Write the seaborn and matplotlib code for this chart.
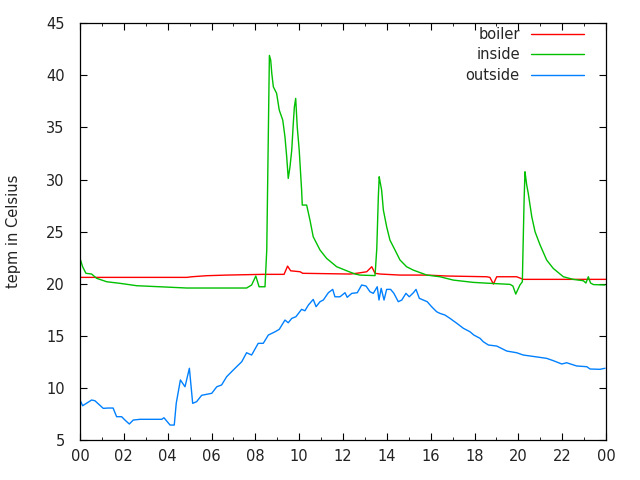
"""
Boiler / inside / outside temperature over one day
"""

# =====================================================
# Imports
# =====================================================
import pandas as pd
import matplotlib
matplotlib.use("Agg")
import matplotlib.pyplot as plt
import seaborn as sns
from matplotlib.ticker import MultipleLocator

# =====================================================
# Data (hour of day, temperature in Celsius)
# =====================================================
boiler_hours = [0, 4.88, 5.1, 5.78, 6.69, 8.36, 9.31, 9.47, 9.61, 10.04, 10.16,
                12.32, 12.62, 13.08, 13.31, 13.46, 13.69, 14.6, 15.82, 16.73,
                18.55, 18.7, 18.86, 19.01, 19.92, 20.22, 24]
boiler_temp = [20.63, 20.63, 20.69, 20.79, 20.85, 20.92, 20.92, 21.71, 21.26, 21.17, 21.02,
               20.95, 21.02, 21.17, 21.65, 21.02, 20.95, 20.85, 20.85, 20.76,
               20.69, 20.63, 19.99, 20.69, 20.69, 20.44, 20.44]

inside_hours = [0, 0.12, 0.27, 0.53, 0.76, 1.22, 1.82, 2.59, 3.65, 4.87, 7.6, 7.83,
                8.02, 8.17, 8.44, 8.52, 8.64, 8.70, 8.75, 8.82, 8.97, 9.09, 9.25,
                9.35, 9.43, 9.50, 9.58, 9.66, 9.73, 9.78, 9.84, 9.91, 10.0, 10.11,
                10.14, 10.34, 10.49, 10.64, 10.95, 11.25, 11.71, 12.17, 12.55, 12.77,
                13.46, 13.54, 13.61, 13.65, 13.69, 13.76, 13.84, 13.99, 14.14, 14.37,
                14.6, 14.9, 15.2, 15.51, 15.82, 16.42, 17.03, 17.94, 18.7, 19.62,
                19.75, 19.88, 20.07, 20.18, 20.21, 20.26, 20.3, 20.33, 20.38, 20.45,
                20.61, 20.76, 20.99, 21.29, 21.59, 22.05, 22.5, 22.96, 23.08, 23.19,
                23.29, 23.42, 23.95]
inside_temp = [22.45, 21.65, 21.02, 20.95, 20.54, 20.21, 20.06, 19.83, 19.73, 19.61, 19.61, 19.9,
               20.76, 19.73, 19.73, 23.25, 41.9, 41.44, 40.17, 38.89, 38.26, 36.66, 35.7,
               34.1, 32.18, 30.11, 31.23, 32.83, 35.38, 36.97, 37.78, 35.06, 32.83, 29.0,
               27.56, 27.56, 26.13, 24.52, 23.25, 22.45, 21.65, 21.26, 20.95, 20.85,
               20.8, 23.41, 28.35, 30.27, 29.79, 29.0, 27.08, 25.48, 24.2, 23.25,
               22.29, 21.65, 21.33, 21.09, 20.85, 20.69, 20.37, 20.15, 20.06, 19.96,
               19.8, 19.03, 19.9, 20.21, 23.25, 28.0, 30.75, 30.27, 29.47, 28.68,
               26.44, 25.0, 23.73, 22.29, 21.49, 20.69, 20.44, 20.31, 20.09, 20.69,
               20.09, 19.94, 19.9]

outside_hours = [0, 0.12, 0.53, 0.68, 1.06, 1.28, 1.51, 1.67, 1.90, 2.05, 2.25, 2.43,
                 2.74, 3.73, 3.83, 4.11, 4.30, 4.39, 4.58, 4.79, 4.99, 5.14, 5.32, 5.55,
                 6.01, 6.24, 6.46, 6.69, 6.99, 7.38, 7.60, 7.83, 8.13, 8.36, 8.59, 8.90,
                 9.09, 9.35, 9.50, 9.66, 9.85, 10.11, 10.26, 10.42, 10.64, 10.77, 10.95,
                 11.10, 11.33, 11.53, 11.63, 11.86, 12.09, 12.19, 12.40, 12.65, 12.85,
                 13.05, 13.23, 13.38, 13.56, 13.64, 13.74, 13.87, 13.99, 14.17, 14.32,
                 14.52, 14.68, 14.87, 15.02, 15.21, 15.33, 15.48, 15.66, 15.84, 16.04,
                 16.27, 16.42, 16.65, 16.88, 17.19, 17.49, 17.79, 17.97, 18.25, 18.4,
                 18.63, 19.01, 19.47, 19.92, 20.22, 20.76, 21.29, 21.59, 21.98, 22.2,
                 22.66, 23.12, 23.27, 23.72, 23.95]
outside_temp = [8.88, 8.33, 8.88, 8.81, 8.08, 8.11, 8.11, 7.28, 7.28, 6.96, 6.58, 6.96,
                7.03, 7.03, 7.18, 6.48, 6.48, 8.56, 10.8, 10.15, 11.92, 8.56, 8.72, 9.33,
                9.52, 10.15, 10.32, 11.11, 11.75, 12.55, 13.41, 13.19, 14.31, 14.31, 15.1, 15.42,
                15.65, 16.54, 16.28, 16.7, 16.86, 17.57, 17.43, 17.98, 18.52, 17.82, 18.3,
                18.46, 19.16, 19.48, 18.77, 18.77, 19.16, 18.72, 19.1, 19.16, 19.9,
                19.8, 19.25, 19.1, 19.73, 18.46, 19.58, 18.46, 19.48, 19.48, 19.1,
                18.3, 18.46, 19.1, 18.77, 19.16, 19.48, 18.62, 18.46, 18.3, 17.82,
                17.34, 17.18, 17.02, 16.7, 16.23, 15.75, 15.42, 15.1, 14.79, 14.46,
                14.15, 14.05, 13.57, 13.41, 13.19, 13.03, 12.87, 12.65, 12.33, 12.45,
                12.14, 12.07, 11.85, 11.82, 11.92]

x_ticks = list(range(0, 25, 2))
x_tick_labels = [f"{h % 24:02d}" for h in x_ticks]

COLORS = {"boiler": "#ff0000", "inside": "#00c000", "outside": "#0080ff"}

df = pd.concat([
    pd.DataFrame({"hour": boiler_hours, "temp": boiler_temp, "sensor": "boiler"}),
    pd.DataFrame({"hour": inside_hours, "temp": inside_temp, "sensor": "inside"}),
    pd.DataFrame({"hour": outside_hours, "temp": outside_temp, "sensor": "outside"}),
])

# =====================================================
# Plot
# =====================================================
sns.set_style("ticks")
plt.rcParams["font.family"] = ["DejaVu Sans"]
plt.rcParams["font.size"] = 10.5

fig, ax = plt.subplots(figsize=(6.4, 4.8), dpi=100)
fig.subplots_adjust(left=0.125, right=0.947, bottom=0.0823, top=0.952)

sns.lineplot(data=df, x="hour", y="temp", hue="sensor", palette=COLORS,
             estimator=None, sort=False, linewidth=1.0, ax=ax)

ax.set_xlim(0, 24)
ax.set_ylim(5, 45)
ax.set_xticks(x_ticks)
ax.set_xticklabels(x_tick_labels)
ax.xaxis.set_minor_locator(MultipleLocator(1))
ax.yaxis.set_major_locator(MultipleLocator(5))

ax.tick_params(which="both", direction="in", top=True, right=True,
               color="black", labelsize=10.5, labelcolor="#222222")
ax.tick_params(axis="x", which="major", length=5, pad=6)
ax.tick_params(axis="x", which="minor", length=2.5)
ax.tick_params(axis="y", which="major", length=5, pad=11)
for spine in ax.spines.values():
    spine.set_visible(True)
    spine.set_color("black")
    spine.set_linewidth(0.9)

ax.set_xlabel("")
ax.set_ylabel("tepm in Celsius", fontsize=10.5, color="#222222", labelpad=18)

ax.legend(loc="upper right", bbox_to_anchor=(0.958, 0.99), frameon=False,
          markerfirst=False, handlelength=3.6, handletextpad=0.8,
          labelspacing=0.36, borderpad=0, borderaxespad=0, fontsize=10.5)

plt.savefig("out.png", dpi=100)
plt.close()
